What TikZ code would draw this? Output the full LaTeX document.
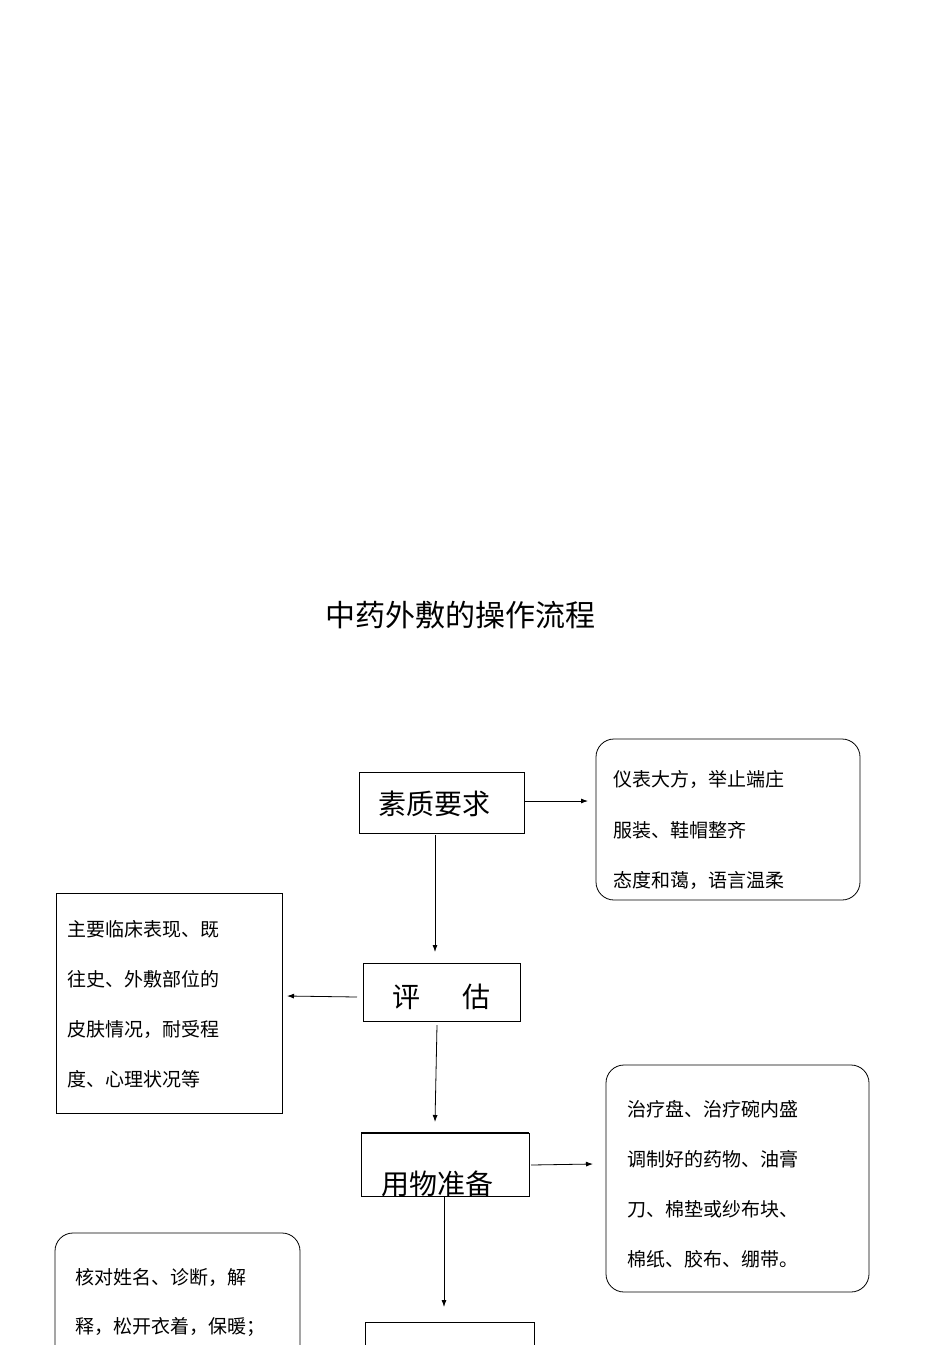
\documentclass[tikz,border=0pt]{standalone}
\usepackage{fontspec}
\setmainfont{Noto Sans CJK SC}
\usetikzlibrary{arrows.meta}
\begin{document}
\begin{tikzpicture}[x=1pt,y=-1pt,
  sq/.style={draw,line width=0.8pt},
  rbox/.style={draw,line width=0.8pt,rounded corners=18pt},
  arr/.style={-{Latex[length=7pt,width=5pt]},line width=0.8pt},
  small/.style={font=\fontsize{19}{19}\selectfont,anchor=west,inner sep=0pt},
  big/.style={font=\fontsize{28}{28}\selectfont,inner sep=0pt}]
\useasboundingbox (0,0) rectangle (950,1345);
\node[font=\fontsize{30}{30}\selectfont] (title) at (460,615) {中药外敷的操作流程};
% 素质要求
\draw[sq] (359,772) rectangle (524,833);
\node[big] (b1) at (434,804) {素质要求};
\coordinate (b1r) at (524,801); \coordinate (b1b) at (435,835);
\draw[rbox] (596,739) rectangle (860,900);
\node[small] (t1) at (613,779) {仪表大方，举止端庄};
\node[small] (t2) at (613,830) {服装、鞋帽整齐};
\node[small] (t3) at (613,880) {态度和蔼，语言温柔};
\coordinate (r1l) at (588,801);
\draw[arr] (b1r) -- (r1l);
% 评估
\draw[sq] (363,963) rectangle (520,1021);
\node[big] (b2) at (441,997) {评\hspace{1.5em}估};
\coordinate (b2t) at (435,952);
\draw[arr] (b1b) -- (b2t);
\draw[sq] (56,893) rectangle (282,1113);
\node[small] at (67,929) {主要临床表现、既};
\node[small] at (67,979) {往史、外敷部位的};
\node[small] at (67,1029) {皮肤情况，耐受程};
\node[small] at (67,1079) {度、心理状况等};
\coordinate (b2l) at (357,997); \coordinate (l2r) at (287,996);
\draw[arr] (b2l) -- (l2r);
% 用物准备
\draw[sq] (361,1133) rectangle (529,1196);
\draw[line width=1.4pt] (361,1133) -- (529,1133);
\node[big] (b3) at (437,1184) {用物准备};
\coordinate (b2b) at (437,1025); \coordinate (b3t) at (435,1122);
\draw[arr] (b2b) -- (b3t);
\draw[rbox] (606,1065) rectangle (869,1292);
\node[small] at (627,1109) {治疗盘、治疗碗内盛};
\node[small] at (627,1159) {调制好的药物、油膏};
\node[small] at (627,1209) {刀、棉垫或纱布块、};
\node[small] at (627,1259) {棉纸、胶布、绷带。};
\coordinate (b3r) at (531,1165); \coordinate (r3l) at (593,1164);
\draw[arr] (b3r) -- (r3l);
% next
\coordinate (b3b) at (444,1196); \coordinate (b4t) at (444,1307);
\draw[arr] (b3b) -- (b4t);
\draw[sq] (365,1322) -- (534,1322) (365,1322) -- (365,1360) (534,1322) -- (534,1360);
\draw[rbox] (55,1380) -- (55,1233) -- (300,1233) -- (300,1380);
\node[small] at (75,1277) {核对姓名、诊断，解};
\node[small] at (75,1327) {释，松开衣着，保暖；};
\end{tikzpicture}
\end{document}
